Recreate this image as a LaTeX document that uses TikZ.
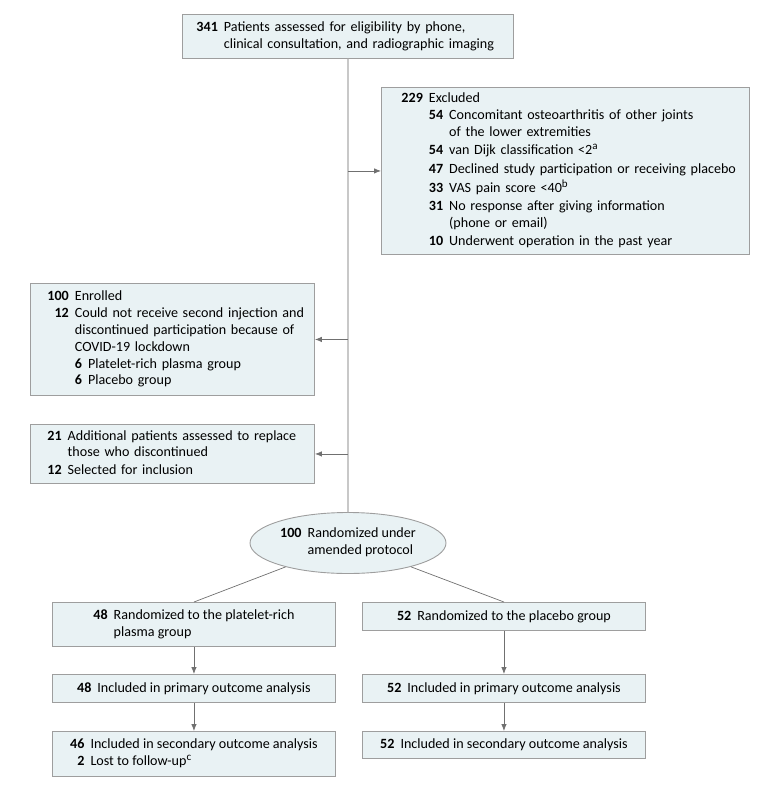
\documentclass[tikz,border=0pt]{standalone}
\usepackage{fontspec}
\setmainfont{Carlito}
\usetikzlibrary{shapes.geometric, arrows.meta}
\definecolor{boxfill}{RGB}{233,242,244}
\definecolor{boxline}{RGB}{158,158,158}
\definecolor{trunkgray}{RGB}{200,200,200}
\definecolor{arrgray}{RGB}{112,112,112}
\newcommand{\nb}[1]{\textbf{#1}}
\newcommand{\fn}[1]{\textsuperscript{\fontsize{11}{11}\selectfont #1}}
\tikzset{
  flowbox/.style={draw=boxline, fill=boxfill, line width=0.9pt, anchor=north west,
    inner ysep=0pt, font=\fontsize{14.1}{16.8}\selectfont},
  leftbox/.style={flowbox, align=left},
  midbox/.style={flowbox, inner xsep=0pt, align=center},
  arr/.style={->, >={Latex[length=7pt, width=5.5pt]}, draw=arrgray, line width=0.8pt},
  trunk/.style={draw=trunkgray, line width=1.8pt},
  split/.style={draw=arrgray, line width=0.7pt}
}
\begin{document}
\begin{tikzpicture}[x=1pt, y=-1pt]
  \useasboundingbox (0,0) rectangle (780,789);
  % screening
  \node[leftbox, inner xsep=14pt, text width=303pt, minimum height=44pt] (elig) at (182,14)
    {\begin{tabular}{@{}r@{\hspace{6pt}}l@{}}\nb{341} & Patients assessed for eligibility by phone,\\
      & clinical consultation, and radiographic imaging\end{tabular}};
  \node[leftbox, inner xsep=20pt, text width=328pt, minimum height=167pt] (excl) at (381,87)
    {\begin{tabular}{@{}r@{\hspace{6pt}}l@{}}\nb{229} & Excluded\\
      & \begin{tabular}[t]{@{}r@{\hspace{6pt}}l@{}}
        \nb{54} & Concomitant osteoarthritis of other joints\\
        & of the lower extremities\\[1.5pt]
        \nb{54} & van Dijk classification <2\fn{a}\\[1.5pt]
        \nb{47} & Declined study participation or receiving placebo\\[1.5pt]
        \nb{33} & VAS pain score <40\fn{b}\\[1.5pt]
        \nb{31} & No response after giving information\\
        & (phone or email)\\[1.5pt]
        \nb{10} & Underwent operation in the past year
      \end{tabular}\end{tabular}};
  % enrolment
  \node[leftbox, inner xsep=17pt, text width=250pt, minimum height=112pt] (enr) at (30,283)
    {\begin{tabular}{@{}r@{\hspace{6pt}}l@{}}\nb{100} & Enrolled\\
      \nb{12} & Could not receive second injection and\\
      & discontinued participation because of\\
      & COVID-19 lockdown\\
      & \begin{tabular}[t]{@{}r@{\hspace{6pt}}l@{}}
        \nb{6} & Platelet-rich plasma group\\
        \nb{6} & Placebo group
      \end{tabular}\end{tabular}};
  \node[leftbox, inner xsep=17pt, text width=250pt, minimum height=59pt] (add) at (30,424)
    {\begin{tabular}{@{}r@{\hspace{6pt}}l@{}}\nb{21} & Additional patients assessed to replace\\
      & those who discontinued\\[1pt]
      \nb{12} & Selected for inclusion\end{tabular}};
  \node[ellipse, draw=boxline, fill=boxfill, line width=0.9pt, minimum width=196pt,
    minimum height=61pt, inner sep=0pt, font=\fontsize{14.1}{16.8}\selectfont] (rand) at (348,543)
    {\begin{tabular}{@{}r@{\hspace{6pt}}l@{}}\nb{100} & Randomized under\\
      & amended protocol\end{tabular}};
  % groups
  \node[midbox, minimum width=283pt, minimum height=44pt] (prp1) at (52,602)
    {\begin{tabular}{@{}r@{\hspace{6pt}}l@{}}\nb{48} & Randomized to the platelet-rich\\
      & plasma group\end{tabular}};
  \node[midbox, minimum width=283pt, minimum height=28pt] (plc1) at (362,602)
    {\nb{52}\hspace{6pt}Randomized to the placebo group};
  \node[midbox, minimum width=283pt, minimum height=28pt] (prp2) at (52,674)
    {\nb{48}\hspace{6pt}Included in primary outcome analysis};
  \node[midbox, minimum width=283pt, minimum height=28pt] (plc2) at (362,674)
    {\nb{52}\hspace{6pt}Included in primary outcome analysis};
  \node[midbox, minimum width=283pt, minimum height=45pt] (prp3) at (52,731)
    {\begin{tabular}{@{}r@{\hspace{6pt}}l@{}}\nb{46} & Included in secondary outcome analysis\\
      \nb{2} & Lost to follow-up\fn{c}\end{tabular}};
  \node[midbox, minimum width=283pt, minimum height=27pt] (plc3) at (362,731)
    {\nb{52}\hspace{6pt}Included in secondary outcome analysis};
  % connectors
  \draw[trunk] (elig.south) -- (rand.north);
  \draw[arr] (elig.south |- excl.west) -- (excl.west);
  \draw[arr] (elig.south |- enr.east) -- (enr.east);
  \draw[arr] (elig.south |- add.east) -- (add.east);
  \draw[split] (rand) -- (prp1.north);
  \draw[split] (rand) -- (plc1.north);
  \draw[arr] (prp1) -- (prp2);
  \draw[arr] (prp2) -- (prp3);
  \draw[arr] (plc1) -- (plc2);
  \draw[arr] (plc2) -- (plc3);
\end{tikzpicture}
\end{document}
